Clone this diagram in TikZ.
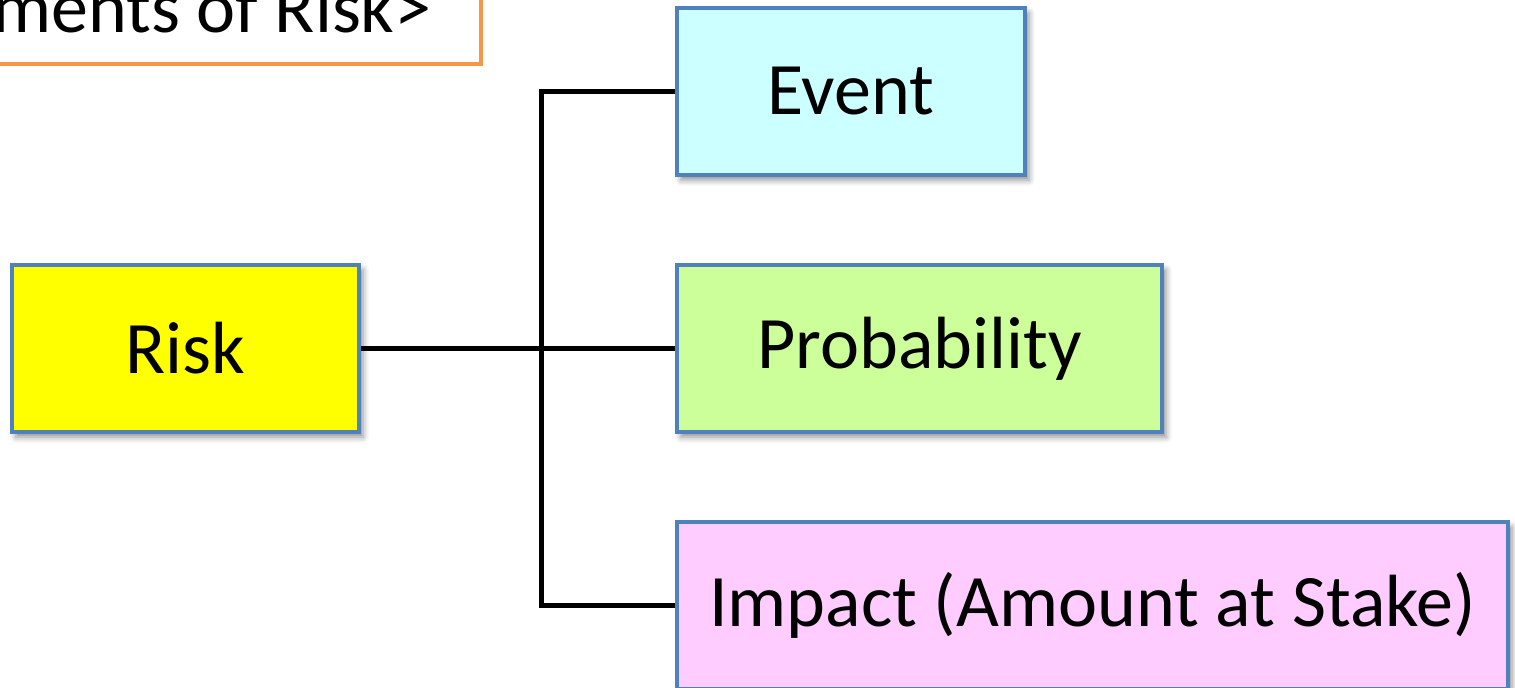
\documentclass[tikz,border=0pt]{standalone}
\usepackage{fontspec}
\setmainfont{Carlito}
\usetikzlibrary{shadows.blur}
\definecolor{boxline}{HTML}{4F81BD}
\definecolor{titleline}{HTML}{F79646}
\definecolor{riskfill}{HTML}{FFFF00}
\definecolor{eventfill}{HTML}{CCFFFF}
\definecolor{probfill}{HTML}{CCFF99}
\definecolor{impactfill}{HTML}{FFCCFF}
\tikzset{
  itembox/.style={draw=boxline, line width=2.2pt, rectangle, inner sep=0pt,
    minimum height=83.5pt, font=\fontsize{37}{40}\selectfont,
    blur shadow={shadow xshift=2pt, shadow yshift=-2.5pt, shadow blur radius=3pt, shadow opacity=45}},
  link/.style={line width=2.5pt, black},
}
\begin{document}
\begin{tikzpicture}[x=0.5pt, y=-0.5pt]
\useasboundingbox (0,0) rectangle (1515,687);
% heading box, running off the top-left corner
\draw[titleline, line width=1.6pt, fill=white] (-40,-120) rectangle (481,64);
\node[anchor=base east, inner sep=0pt, font=\fontsize{37}{40}\selectfont] (title) at (432,32) {ments of Risk>};
% boxes
\node[itembox, fill=riskfill, minimum width=173.5pt] (risk) at (185.5,348.5) {Risk};
\node[itembox, fill=eventfill, minimum width=174pt] (event) at (851,91.5) {Event};
\node[itembox, fill=probfill, minimum width=242.5pt] (prob) at (919.5,348.5) {Probability};
\node[itembox, fill=impactfill, minimum width=415.5pt] (impact) at (1092.5,605.5) {Impact (Amount at Stake)};
% connectors
\coordinate (bus) at (541,348.5);
\draw[link] (risk.east) -- (prob.west);
\draw[link] (event.west) -- (event.west -| bus) -- (impact.west -| bus) -- (impact.west);
\end{tikzpicture}
\end{document}
